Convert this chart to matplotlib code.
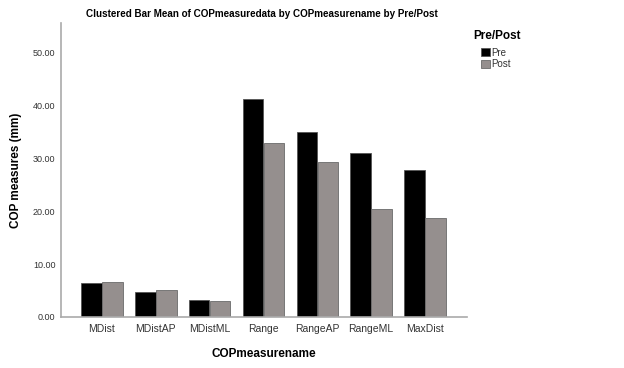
import matplotlib
matplotlib.use("Agg")
import matplotlib.pyplot as plt
import numpy as np
from matplotlib.patches import Patch

categories = ["MDist", "MDistAP", "MDistML", "Range", "RangeAP", "RangeML", "MaxDist"]
pre = [6.4, 4.8, 3.2, 41.2, 35.0, 31.0, 27.8]
post = [6.7, 5.2, 3.1, 32.9, 29.4, 20.4, 18.8]
yticks = [0, 10, 20, 30, 40, 50]
ytick_labels = ["0.00", "10.00", "20.00", "30.00", "40.00", "50.00"]

plt.rcParams['font.family'] = ['Liberation Sans', 'DejaVu Sans']

fig = plt.figure(figsize=(6.24, 3.68), dpi=100)
ax = fig.add_axes([61/624, 1-317/368, (467-61)/624, (317-23)/368])

x = np.arange(len(categories))
w = 0.38
ax.bar(x - w/2 - 0.005, pre, width=w, color='black', edgecolor='#555555', linewidth=0.6, label='Pre')
ax.bar(x + w/2 + 0.005, post, width=w, color='#958f8e', edgecolor='#6a6a6a', linewidth=0.6, label='Post')

ax.set_xlim(-0.76, 6.78)
ax.set_ylim(0, 55.6)
ax.set_yticks(yticks)
ax.set_yticklabels(ytick_labels)
ax.set_xticks(x)
ax.set_xticklabels(categories)
ax.tick_params(axis='y', length=0, labelsize=6.5, colors='#333333', pad=4)
ax.tick_params(axis='x', length=0, labelsize=7.5, colors='#333333', pad=5)
for s in ['top', 'right']:
    ax.spines[s].set_visible(False)
for s in ['left', 'bottom']:
    ax.spines[s].set_color('#aaaaaa')
    ax.spines[s].set_linewidth(1.2)

ax.set_ylabel("COP measures (mm)", fontsize=8.5, fontweight='bold', labelpad=8)
ax.set_xlabel("COPmeasurename", fontsize=8.5, fontweight='bold', labelpad=10)
fig.text(262/624, 1-14/368, "Clustered Bar Mean of COPmeasuredata by COPmeasurename by Pre/Post",
         ha='center', va='center', fontsize=7.1, fontweight='bold')

fig.text(473/624, 1-36/368, "Pre/Post", ha='left', va='center', fontsize=8.5, fontweight='bold')
handles = [Patch(facecolor='black', edgecolor='#555555', linewidth=0.6),
           Patch(facecolor='#958f8e', edgecolor='#6a6a6a', linewidth=0.6)]
leg = fig.legend(handles, ['Pre', 'Post'], loc='upper left',
                 bbox_to_anchor=(474/624, 1-41/368), frameon=False, fontsize=7,
                 handlelength=0.9, handleheight=0.9, handletextpad=0.2,
                 labelspacing=0.12, borderpad=0.2)
for t in leg.get_texts():
    t.set_color('#333333')

fig.savefig("out.png", dpi=100)
